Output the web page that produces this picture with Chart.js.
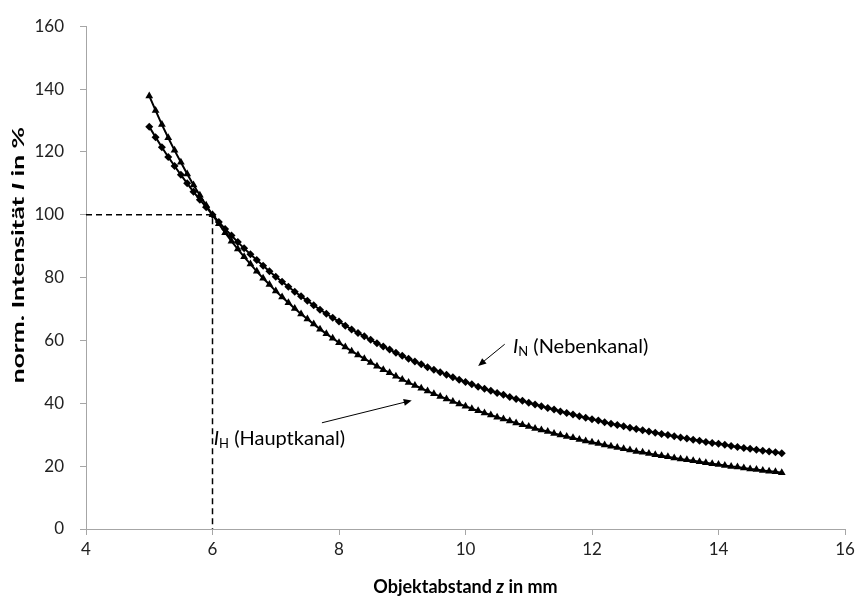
<!DOCTYPE html>
<html>
<head>
<meta charset="utf-8">
<script src="https://cdn.jsdelivr.net/npm/chart.js@4.4.0/dist/chart.umd.min.js"></script>
<style>
  html, body { margin: 0; padding: 0; background: #fff; }
</style>
</head>
<body>
<canvas id="chartIntensity" width="861" height="600"></canvas>
<script>
// Objektabstand z in mm (Messpunkte)
const zValues = [
  5.0, 5.1, 5.2, 5.3, 5.4, 5.5, 5.6, 5.7, 5.8, 5.9,
  6.0, 6.1, 6.2, 6.3, 6.4, 6.5, 6.6, 6.7, 6.8, 6.9,
  7.0, 7.1, 7.2, 7.3, 7.4, 7.5, 7.6, 7.7, 7.8, 7.9,
  8.0, 8.1, 8.2, 8.3, 8.4, 8.5, 8.6, 8.7, 8.8, 8.9,
  9.0, 9.1, 9.2, 9.3, 9.4, 9.5, 9.6, 9.7, 9.8, 9.9,
  10.0, 10.1, 10.2, 10.3, 10.4, 10.5, 10.6, 10.7, 10.8, 10.9,
  11.0, 11.1, 11.2, 11.3, 11.4, 11.5, 11.6, 11.7, 11.8, 11.9,
  12.0, 12.1, 12.2, 12.3, 12.4, 12.5, 12.6, 12.7, 12.8, 12.9,
  13.0, 13.1, 13.2, 13.3, 13.4, 13.5, 13.6, 13.7, 13.8, 13.9,
  14.0, 14.1, 14.2, 14.3, 14.4, 14.5, 14.6, 14.7, 14.8, 14.9,
  15.0
];

// I_H (Hauptkanal), norm. Intensität in %
const hauptValues = [
  137.8, 133.2, 128.7, 124.5, 120.5, 116.7, 113.0, 109.5, 106.2, 103.0,
  100.0, 97.1, 94.3, 91.6, 89.1, 86.6, 84.3, 82.0, 79.8, 77.8,
  75.7, 73.8, 72.0, 70.2, 68.4, 66.8, 65.2, 63.6, 62.1, 60.7,
  59.3, 57.9, 56.6, 55.4, 54.2, 53.0, 51.8, 50.7, 49.7, 48.6,
  47.6, 46.6, 45.7, 44.8, 43.9, 43.0, 42.2, 41.4, 40.6, 39.8,
  39.1, 38.3, 37.6, 36.9, 36.3, 35.6, 35.0, 34.4, 33.7, 33.2,
  32.6, 32.0, 31.5, 31.0, 30.4, 29.9, 29.4, 29.0, 28.5, 28.0,
  27.6, 27.2, 26.7, 26.3, 25.9, 25.5, 25.1, 24.7, 24.4, 24.0,
  23.6, 23.3, 23.0, 22.6, 22.3, 22.0, 21.7, 21.4, 21.1, 20.8,
  20.5, 20.2, 19.9, 19.7, 19.4, 19.1, 18.9, 18.6, 18.4, 18.2,
  17.9
];

// I_N (Nebenkanal), norm. Intensität in %
const nebenValues = [
  128.0, 124.7, 121.5, 118.4, 115.5, 112.7, 110.0, 107.3, 104.8, 102.4,
  100.0, 97.7, 95.5, 93.4, 91.3, 89.3, 87.4, 85.6, 83.8, 82.0,
  80.3, 78.7, 77.1, 75.5, 74.1, 72.6, 71.2, 69.8, 68.5, 67.2,
  66.0, 64.7, 63.5, 62.4, 61.3, 60.2, 59.1, 58.1, 57.1, 56.1,
  55.1, 54.2, 53.3, 52.4, 51.5, 50.7, 49.9, 49.1, 48.3, 47.5,
  46.8, 46.1, 45.3, 44.6, 44.0, 43.3, 42.7, 42.0, 41.4, 40.8,
  40.2, 39.6, 39.1, 38.5, 38.0, 37.4, 36.9, 36.4, 35.9, 35.4,
  34.9, 34.5, 34.0, 33.5, 33.1, 32.7, 32.2, 31.8, 31.4, 31.0,
  30.6, 30.2, 29.9, 29.5, 29.1, 28.8, 28.4, 28.1, 27.7, 27.4,
  27.1, 26.8, 26.4, 26.1, 25.8, 25.5, 25.2, 24.9, 24.7, 24.4,
  24.1
];

// Hilfslinie bei z = 6 mm / I = 100 %
const refX = [4, 6, 6];
const refY = [100, 100, 0];

// Achsen
const xTicks = [4, 6, 8, 10, 12, 14, 16];
const yTicks = [0, 20, 40, 60, 80, 100, 120, 140, 160];

const toPoints = (xs, ys) => xs.map((x, i) => ({ x: x, y: ys[i] }));

const FONT = 'Lato, "Noto Sans", sans-serif';
const AXIS_GRAY = '#a6a6a6';

// Beschriftungen mit Pfeil (Lage in Datenkoordinaten)
const notes = [
  { sub: 'N', rest: ' (Nebenkanal)', textAt: [10.75, 58.1], from: [10.62, 58.8], to: [10.2, 51.9] },
  { sub: 'H', rest: ' (Hauptkanal)', textAt: [6.02, 28.7], from: [7.73, 33.8], to: [9.15, 40.9] }
];

function drawRuns(ctx, runs, x, y, align) {
  let total = 0;
  runs.forEach(r => { ctx.font = r.font; total += ctx.measureText(r.text).width; });
  let cx = align === 'center' ? x - total / 2 : x;
  runs.forEach(r => {
    ctx.font = r.font;
    ctx.fillText(r.text, cx, y + (r.dy || 0));
    cx += ctx.measureText(r.text).width;
  });
}

function drawArrow(ctx, x1, y1, x2, y2) {
  const ang = Math.atan2(y2 - y1, x2 - x1);
  const len = 8, half = 3.5;
  ctx.beginPath();
  ctx.moveTo(x1, y1);
  ctx.lineTo(x2 - Math.cos(ang) * len * 0.8, y2 - Math.sin(ang) * len * 0.8);
  ctx.stroke();
  ctx.beginPath();
  ctx.moveTo(x2, y2);
  ctx.lineTo(x2 - Math.cos(ang) * len - Math.sin(ang) * half, y2 - Math.sin(ang) * len + Math.cos(ang) * half);
  ctx.lineTo(x2 - Math.cos(ang) * len + Math.sin(ang) * half, y2 - Math.sin(ang) * len - Math.cos(ang) * half);
  ctx.closePath();
  ctx.fill();
}

const labelPlugin = {
  id: 'labelPlugin',
  afterDraw(chart) {
    const { ctx, chartArea, scales: { x, y } } = chart;
    ctx.save();
    ctx.fillStyle = '#000';
    ctx.strokeStyle = '#000';
    ctx.lineWidth = 1;
    ctx.textBaseline = 'middle';

    // Achsentitel
    drawRuns(ctx, [
      { text: 'Objektabstand ', font: 'bold 18px ' + FONT },
      { text: 'z', font: 'italic bold 18px ' + FONT },
      { text: ' in mm', font: 'bold 18px ' + FONT }
    ], (chartArea.left + chartArea.right) / 2, 587, 'center');

    // y-Titel, im Original in Schreibrichtung gestreckt
    ctx.save();
    ctx.translate(19, 255);
    ctx.rotate(-Math.PI / 2);
    ctx.scale(1.55, 1);
    drawRuns(ctx, [
      { text: 'norm. Intensität ', font: 'bold 17px ' + FONT },
      { text: 'I', font: 'italic bold 17px ' + FONT },
      { text: ' in %', font: 'bold 17px ' + FONT }
    ], 0, 0, 'center');
    ctx.restore();

    // Kurvenbeschriftungen
    notes.forEach(n => {
      drawRuns(ctx, [
        { text: 'I', font: 'italic 20px ' + FONT },
        { text: n.sub, font: '13px ' + FONT, dy: 5 },
        { text: n.rest, font: '20px ' + FONT }
      ], x.getPixelForValue(n.textAt[0]), y.getPixelForValue(n.textAt[1]), 'left');
      drawArrow(ctx,
        x.getPixelForValue(n.from[0]), y.getPixelForValue(n.from[1]),
        x.getPixelForValue(n.to[0]), y.getPixelForValue(n.to[1]));
    });
    ctx.restore();
  }
};

const ctx = document.getElementById('chartIntensity');
const chartIntensity = new Chart(ctx, {
  type: 'scatter',
  data: {
    datasets: [{
      label: 'Hilfslinie',
      data: toPoints(refX, refY),
      showLine: true,
      borderColor: '#000',
      borderWidth: 1.5,
      borderDash: [6, 4],
      pointRadius: 0,
      order: 3
    }, {
      label: 'I_N (Nebenkanal)',
      data: toPoints(zValues, nebenValues),
      showLine: true,
      borderColor: '#000',
      borderWidth: 2,
      pointStyle: 'rectRot',
      pointRadius: 4,
      pointBackgroundColor: '#000',
      pointBorderColor: '#000',
      pointBorderWidth: 0,
      order: 2
    }, {
      label: 'I_H (Hauptkanal)',
      data: toPoints(zValues, hauptValues),
      showLine: true,
      borderColor: '#000',
      borderWidth: 2,
      pointStyle: 'triangle',
      pointRadius: 4.5,
      pointBackgroundColor: '#000',
      pointBorderColor: '#000',
      pointBorderWidth: 0,
      order: 1
    }]
  },
  options: {
    responsive: false,
    animation: false,
    layout: {
      padding: { top: 17, right: 16, left: 0, bottom: 0 }
    },
    plugins: {
      legend: { display: false },
      tooltip: { enabled: false }
    },
    scales: {
      x: {
        type: 'linear',
        min: xTicks[0],
        max: xTicks[xTicks.length - 1],
        afterBuildTicks: (scale) => { scale.ticks = xTicks.map(v => ({ value: v })); },
        afterFit: (scale) => { scale.height = 71; },
        ticks: {
          color: '#222',
          font: { family: FONT, size: 17 },
          padding: 4
        },
        grid: {
          drawOnChartArea: false,
          tickLength: 6,
          color: AXIS_GRAY
        },
        border: { color: AXIS_GRAY, width: 1 }
      },
      y: {
        min: yTicks[0],
        max: yTicks[yTicks.length - 1],
        afterBuildTicks: (scale) => { scale.ticks = yTicks.map(v => ({ value: v })); },
        afterFit: (scale) => { scale.width = 86; },
        ticks: {
          color: '#222',
          font: { family: FONT, size: 17 },
          padding: 16
        },
        grid: {
          drawOnChartArea: false,
          tickLength: 6,
          color: AXIS_GRAY
        },
        border: { color: AXIS_GRAY, width: 1 }
      }
    }
  },
  plugins: [labelPlugin]
});
</script>
</body>
</html>
